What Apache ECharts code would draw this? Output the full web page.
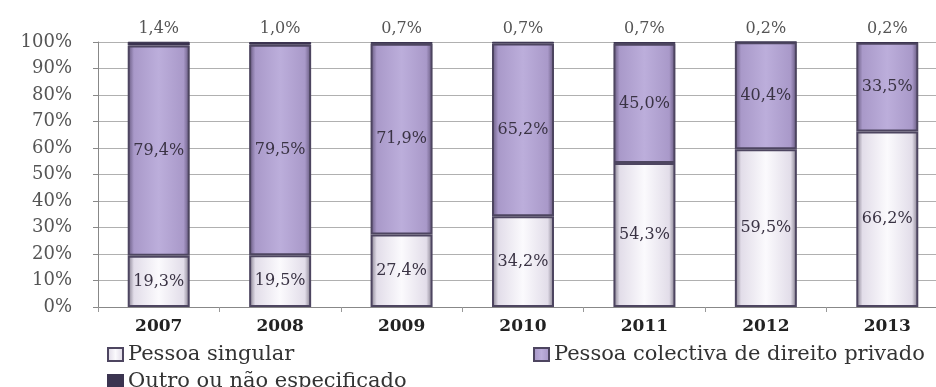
<!DOCTYPE html>
<html>
<head>
<meta charset="utf-8">
<script src="https://cdn.jsdelivr.net/npm/echarts@6/dist/echarts.min.js"></script>
<style>
  html, body { margin: 0; padding: 0; background: #fff; overflow: hidden; }
  /* plot area runs slightly past the right edge of the page */
  #chart { width: 948px; height: 387px; }
</style>
</head>
<body>
<div id="chart"></div>
<script>
// Years on the category axis
const years = ['2007', '2008', '2009', '2010', '2011', '2012', '2013'];

// Share of each requester type per year (%)
const pessoaSingular = [19.3, 19.5, 27.4, 34.2, 54.3, 59.5, 66.2];
const pessoaColectiva = [79.4, 79.5, 71.9, 65.2, 45.0, 40.4, 33.5];
const outro = [1.4, 1.0, 0.7, 0.7, 0.7, 0.2, 0.2];

// Series names shown in the legend
const names = ['Pessoa singular', 'Pessoa colectiva de direito privado', 'Outro ou não especificado'];

const FONT = '"DejaVu Serif", "Liberation Serif", serif';

const fmt = v => v.toFixed(1).replace('.', ',') + '%';

// Horizontal bevel-style gradient: darker edges, light centre
function bevel(edge, side, centre) {
  return {
    type: 'linear', x: 0, y: 0, x2: 1, y2: 0,
    colorStops: [
      { offset: 0, color: edge },
      { offset: 0.1, color: side },
      { offset: 0.5, color: centre },
      { offset: 0.9, color: side },
      { offset: 1, color: edge }
    ]
  };
}

const insideLabel = {
  show: true,
  position: 'inside',
  fontFamily: FONT,
  fontSize: 16,
  color: '#3a3344',
  formatter: p => fmt(p.value)
};

const legendBase = {
  icon: 'rect', itemWidth: 15, itemHeight: 13, itemGap: 7,
  textStyle: { fontFamily: FONT, fontSize: 21, color: '#333' }
};

const chart = echarts.init(document.getElementById('chart'));
chart.setOption({
  animation: false,
  backgroundColor: '#fff',
  grid: { left: 98, top: 42, width: 850, height: 265, containLabel: false },
  legend: [
    Object.assign({ data: [names[0]], left: 102, top: 339 }, legendBase),
    Object.assign({ data: [names[1]], left: 528, top: 339 }, legendBase),
    Object.assign({ data: [names[2]], left: 102, top: 366 }, legendBase)
  ],
  xAxis: {
    type: 'category',
    data: years,
    axisLine: { show: true, lineStyle: { color: '#888', width: 1 } },
    axisTick: { show: true, alignWithLabel: false, length: 5, lineStyle: { color: '#999' } },
    axisLabel: { fontFamily: FONT, fontSize: 17, fontWeight: 'bold', color: '#222', margin: 11 }
  },
  yAxis: {
    type: 'value',
    min: 0, max: 100, interval: 10,
    axisLine: { show: true, lineStyle: { color: '#888', width: 1 } },
    axisTick: { show: true, length: 5, lineStyle: { color: '#888' } },
    axisLabel: { fontFamily: FONT, fontSize: 18, color: '#555', margin: 26, formatter: '{value}%' },
    splitLine: { show: true, lineStyle: { color: '#b0b0b0', width: 1 } }
  },
  series: [
    {
      name: names[0], type: 'bar', stack: 'total', barWidth: 62,
      data: pessoaSingular,
      itemStyle: {
        color: bevel('#7e7888', '#e2dde9', '#fbfafd'),
        borderColor: '#4d4560', borderWidth: 2
      },
      label: insideLabel
    },
    {
      name: names[1], type: 'bar', stack: 'total', barWidth: 62,
      data: pessoaColectiva,
      itemStyle: {
        color: bevel('#62557a', '#a999c9', '#bcaedb'),
        borderColor: '#4d4560', borderWidth: 2
      },
      label: insideLabel
    },
    {
      name: names[2], type: 'bar', stack: 'total', barWidth: 62,
      data: outro,
      itemStyle: { color: '#3b3450', borderColor: '#3b3450', borderWidth: 1 },
      label: {
        show: true, position: 'top', distance: 5,
        fontFamily: FONT, fontSize: 16, color: '#555',
        formatter: p => fmt(p.value)
      }
    }
  ]
});
</script>
</body>
</html>
